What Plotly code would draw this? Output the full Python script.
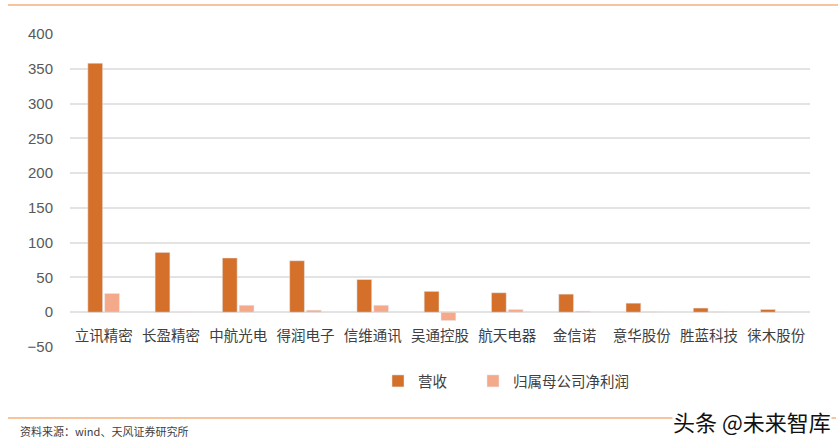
import plotly.graph_objects as go

categories = ["立讯精密", "长盈精密", "中航光电", "得润电子", "信维通讯", "吴通控股",
              "航天电器", "金信诺", "意华股份", "胜蓝科技", "徕木股份"]
revenue = [358, 86, 78, 74, 47, 30, 28, 26, 13, 6, 4]
profit = [27, 0.5, 10, 3, 10, -12, 4, 1.5, 1, 0.8, 0.5]
y_ticks = [-50, 0, 50, 100, 150, 200, 250, 300, 350, 400]

W, H = 838, 446
L, R, T, B = 70, 28, 34, 99
pw, ph = W - L - R, H - T - B

def px(x):
    return (x - L) / pw

def py(y):
    return (H - B - y) / ph

FONT = "Noto Sans CJK SC"

fig = go.Figure()
fig.add_bar(x=categories, y=revenue, name="营收\u3000\u00a0\u00a0", marker_color="#D4702A")
fig.add_bar(x=categories, y=profit, name="归属母公司净利润", marker_color="#F4A98A")

fig.update_layout(
    width=W, height=H,
    margin=dict(l=L, r=R, t=T, b=B),
    paper_bgcolor="white", plot_bgcolor="white",
    barmode="group", bargap=0.5, bargroupgap=0.12,
    font=dict(family=FONT, size=14.5, color="#595959"),
    showlegend=True,
    legend=dict(orientation="h", x=px(378), y=py(381), yanchor="middle", xanchor="left",
                font=dict(size=14.5, color="#404040"), itemwidth=30,
                tracegroupgap=0, bgcolor="rgba(0,0,0,0)"),
    xaxis=dict(anchor="free", position=py(312), showline=False, showgrid=False,
               ticks="", ticklabelstandoff=13,
               tickfont=dict(size=14.5, color="#404040", family=FONT)),
    yaxis=dict(range=[-50, 400], tickvals=y_ticks, showgrid=True,
               gridcolor="#E3E3E3", gridwidth=1.5, zeroline=False, showline=False,
               tickfont=dict(size=15, color="#595959", family="Liberation Sans"),
               ticklabelstandoff=16),
)

fig.add_shape(type="line", xref="paper", yref="paper",
              x0=px(8), x1=px(838), y0=py(5), y1=py(5),
              line=dict(color="#F5B07C", width=1.5))
fig.add_shape(type="line", xref="paper", yref="paper",
              x0=px(8), x1=px(836), y0=py(418), y1=py(418),
              line=dict(color="#F5B07C", width=1.5))

fig.add_annotation(text="资料来源：wind、天风证券研究所", xref="paper", yref="paper",
                   x=px(18), y=py(431), xanchor="left", yanchor="middle", showarrow=False,
                   font=dict(size=11, color="#404040", family=FONT))
fig.add_annotation(text="头条 @未来智库", xref="paper", yref="paper",
                   x=px(832), y=py(421), xanchor="right", yanchor="middle", showarrow=False,
                   bgcolor="white", borderpad=0,
                   font=dict(size=22, color="#111111", family=FONT))

fig.write_html("out.html", config={"displayModeBar": False},
               post_script="document.body.style.margin='0px';")
